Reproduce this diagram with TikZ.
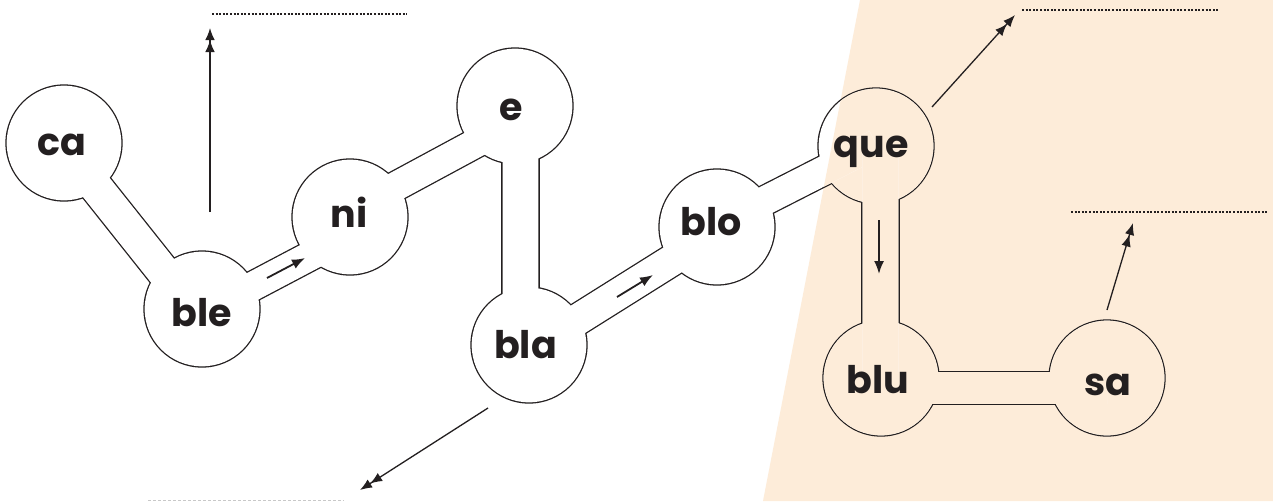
\documentclass[tikz,border=0pt]{standalone}
\usepackage{fontspec}
\setmainfont{Poppins}
\usetikzlibrary{arrows.meta,calc}
\definecolor{peach}{RGB}{253,236,217}
\definecolor{ink}{RGB}{35,31,32}
\definecolor{faint}{RGB}{200,200,200}
\newcommand{\bgfill}{%
  \fill[white] (0,0) rectangle (1273,501);
  \fill[peach] (860,0) -- (1273,0) -- (1273,501) -- (763,501) -- cycle;}
% tube: #1,#2 coordinate names, #3 half width
\newcommand{\tubeouter}[3]{%
  \pgfmathsetmacro\wout{2*#3+1.3}%
  \draw[ink, line width=\wout pt] (#1) -- (#2);}
\newcommand{\tubeinner}[3]{%
  \pgfmathsetmacro\hin{#3-0.65}%
  \begin{scope}
    \clip ($(#1)!\hin pt!90:(#2)$) -- ($(#2)!\hin pt!-90:(#1)$) -- ($(#2)!\hin pt!90:(#1)$) -- ($(#1)!\hin pt!-90:(#2)$) -- cycle;
    \bgfill
  \end{scope}}
\begin{document}
\begin{tikzpicture}[x=1pt,y=-1pt,
  bub/.style={circle, minimum size=116pt, inner sep=0pt},
  lbl/.style={anchor=base, inner sep=0pt, text=ink, font=\fontsize{38}{46}\selectfont\bfseries},
  dbl/.style={ink, line width=1.3pt, -{Latex[length=12pt,width=9.5pt]Latex[length=12pt,width=9.5pt]}},
  sgl/.style={ink, line width=1.8pt, -{Latex[length=13pt,width=10pt]}},
  dots/.style={ink, line width=1.3pt, dash pattern=on 2pt off 1.6pt},
  fdots/.style={faint, line width=1pt, dash pattern=on 3pt off 2pt}]
\useasboundingbox (0,0) rectangle (1273,501);
\bgfill
% bubbles
\node[bub] (ca)  at (64,143) {};
\node[bub] (ble) at (202,309) {};
\node[bub] (ni)  at (350,217) {};
\node[bub] (e)   at (515,106) {};
\node[bub] (bla) at (529,345) {};
\node[bub] (blo) at (717,227) {};
\node[bub] (que) at (876,146) {};
\node[bub] (blu) at (881,378) {};
\node[bub] (sa)  at (1107,378) {};
% tube end points
\coordinate (t1a) at ($(ca)+(-3,0)$);   \coordinate (t1b) at ($(ble)+(-9,0)$);
\coordinate (t2a) at ($(ble)+(0,4)$);   \coordinate (t2b) at ($(ni)+(0,18)$);
\coordinate (t3a) at ($(ni)+(0,-6)$);   \coordinate (t3b) at ($(e)+(0,16)$);
\coordinate (t4a) at ($(e)+(5.5,0)$);   \coordinate (t4b) at ($(bla)+(-8.5,0)$);
\coordinate (t5a) at ($(bla)+(0,5)$);   \coordinate (t5b) at ($(blo)+(0,5)$);
\coordinate (t6a) at ($(blo)+(0,-2)$);  \coordinate (t6b) at ($(que)+(0,-2)$);
\coordinate (t7a) at ($(que)+(4.5,0)$); \coordinate (t7b) at ($(blu)+(-0.5,0)$);
\coordinate (t8a) at ($(blu)+(0,10)$);  \coordinate (t8b) at ($(sa)+(0,10)$);
% outer (black) union
\foreach \c in {ca,ble,ni,e,bla,blo,que,blu,sa} {\fill[ink] (\c) circle[radius=58.65];}
\tubeouter{t1a}{t1b}{17}
\tubeouter{t2a}{t2b}{15}
\tubeouter{t3a}{t3b}{15}
\tubeouter{t4a}{t4b}{18.5}
\tubeouter{t5a}{t5b}{16}
\tubeouter{t6a}{t6b}{15}
\tubeouter{t7a}{t7b}{18.5}
\tubeouter{t8a}{t8b}{16}
% restore interiors
\foreach \c in {ca,ble,ni,e,bla,blo,que,blu,sa} {\begin{scope}\clip (\c) circle[radius=57.35]; \bgfill\end{scope}}
\tubeinner{t1a}{t1b}{17}
\tubeinner{t2a}{t2b}{15}
\tubeinner{t3a}{t3b}{15}
\tubeinner{t4a}{t4b}{18.5}
\tubeinner{t5a}{t5b}{16}
\tubeinner{t6a}{t6b}{15}
\tubeinner{t7a}{t7b}{18.5}
\tubeinner{t8a}{t8b}{16}
% labels
\node[lbl] (lca)  at (62,155) {ca};
\node[lbl] (lble) at (202,326) {ble};
\node[lbl] (lni)  at (349,227) {ni};
\node[lbl] (le)   at (511,120) {e};
\node[lbl] (lbla) at (525.5,358) {bla};
\node[lbl] (lblo) at (711.5,235) {blo};
\node[lbl] (lque) at (871,157) {que};
\node[lbl] (lblu) at (877.5,393) {blu};
\node[lbl] (lsa)  at (1107.5,395) {sa};
% small arrows in tubes
\coordinate (s1a) at (267,278); \coordinate (s1b) at (305,258);
\coordinate (s2a) at (617,297); \coordinate (s2b) at (653,275);
\coordinate (s3a) at (879,220); \coordinate (s3b) at (879,274);
\draw[sgl] (s1a) -- (s1b);
\draw[sgl] (s2a) -- (s2b);
\draw[sgl] (s3a) -- (s3b);
% long arrows
\coordinate (a1s) at (210,212);  \coordinate (a1e) at (210,28);
\coordinate (a2s) at (488,408);  \coordinate (a2e) at (360,490);
\coordinate (a3s) at (932,107);  \coordinate (a3e) at (1015,15);
\coordinate (a4s) at (1107,310); \coordinate (a4e) at (1133,223);
\draw[dbl] (a1s) -- (a1e);
\draw[dbl] (a2s) -- (a2e);
\draw[dbl] (a3s) -- (a3e);
\draw[dbl] (a4s) -- (a4e);
% dotted lines
\coordinate (d1a) at (212,14);   \coordinate (d1b) at (407,14);
\coordinate (d2a) at (1022,10);  \coordinate (d2b) at (1218,10);
\coordinate (d3a) at (1071,212); \coordinate (d3b) at (1267,212);
\coordinate (d4a) at (148,500);  \coordinate (d4b) at (344,500);
\draw[dots] (d1a) -- (d1b);
\draw[dots] (d2a) -- (d2b);
\draw[dots] (d3a) -- (d3b);
\draw[fdots] (d4a) -- (d4b);
\end{tikzpicture}
\end{document}
